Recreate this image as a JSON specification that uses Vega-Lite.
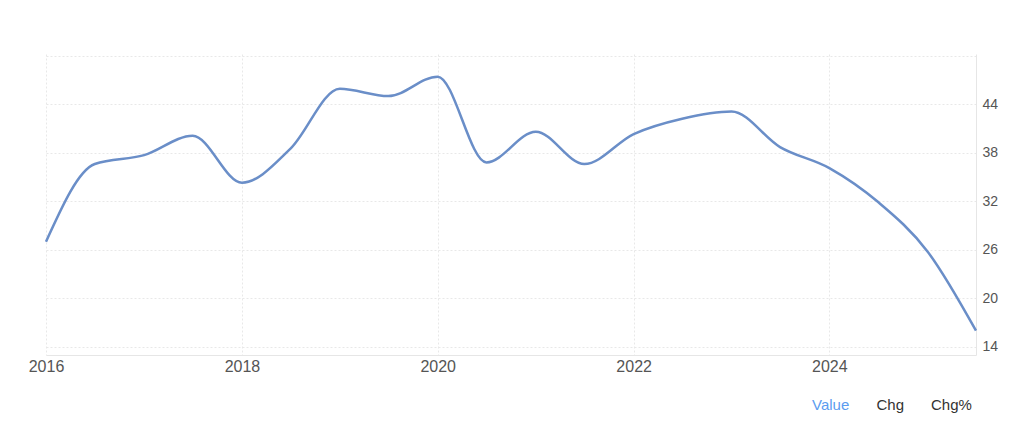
{
  "$schema": "https://vega.github.io/schema/vega-lite/v6.json",
  "autosize": {"type": "none"},
  "width": 930,
  "height": 301,
  "padding": {"left": 46, "top": 54, "right": 48, "bottom": 72},
  "background": "white",
  "config": {
    "font": "Liberation Sans",
    "view": {"stroke": null},
    "axis": {"labelFont": "Liberation Sans", "labelFontSize": 14, "labelColor": "#555555", "ticks": false, "title": null, "gridColor": "#e8e8e8", "gridDash": [2, 2], "gridWidth": 1, "domainColor": "#e6e6e6", "domainWidth": 1}
  },
  "datasets": {
    "series": [
      {"date": "2016-01-01", "value": 27.0},
      {"date": "2016-07-01", "value": 36.6},
      {"date": "2017-01-01", "value": 37.7},
      {"date": "2017-07-01", "value": 40.1},
      {"date": "2018-01-01", "value": 34.3},
      {"date": "2018-07-01", "value": 38.5},
      {"date": "2019-01-01", "value": 45.9},
      {"date": "2019-07-01", "value": 45.0},
      {"date": "2020-01-01", "value": 47.4},
      {"date": "2020-07-01", "value": 36.8},
      {"date": "2021-01-01", "value": 40.6},
      {"date": "2021-07-01", "value": 36.6},
      {"date": "2022-01-01", "value": 40.3},
      {"date": "2022-07-01", "value": 42.2},
      {"date": "2023-01-01", "value": 43.1},
      {"date": "2023-07-01", "value": 38.7},
      {"date": "2024-01-01", "value": 36.1},
      {"date": "2024-07-01", "value": 31.9},
      {"date": "2025-01-01", "value": 25.8},
      {"date": "2025-07-01", "value": 16.0}
    ],
    "tabs": [
      {"tab": "Value"},
      {"tab": "Chg"},
      {"tab": "Chg%"}
    ]
  },
  "layer": [
    {
      "data": {"name": "series"},
      "mark": {"type": "line", "interpolate": "monotone", "color": "#6a8ec8", "strokeWidth": 2.5},
      "encoding": {
        "x": {
          "field": "date", "type": "temporal",
          "scale": {"domain": [{"year": 2016, "month": 1, "date": 1}, {"year": 2025, "month": 7, "date": 1}]},
          "axis": {"values": [{"year": 2016, "month": 1, "date": 1}, {"year": 2018, "month": 1, "date": 1}, {"year": 2020, "month": 1, "date": 1}, {"year": 2022, "month": 1, "date": 1}, {"year": 2024, "month": 1, "date": 1}], "format": "%Y", "labelFontSize": 16, "labelFlush": false, "labelPadding": 3, "grid": true, "domain": true}
        },
        "y": {
          "field": "value", "type": "quantitative",
          "scale": {"domain": [13, 50.2], "nice": false, "zero": false},
          "axis": {"orient": "right", "values": [14, 20, 26, 32, 38, 44, 50], "labelExpr": "datum.value == 50 ? '' : datum.label", "labelPadding": 6, "labelFlush": false, "grid": true, "domain": true}
        }
      }
    },
    {
      "data": {"name": "tabs"},
      "mark": {"type": "point", "opacity": 0},
      "encoding": {
        "color": {
          "field": "tab", "type": "nominal",
          "scale": {"domain": ["Value", "Chg", "Chg%"], "range": ["#ffffff", "#ffffff", "#ffffff"]},
          "legend": {
            "orient": "none", "legendX": 751, "legendY": 343, "direction": "horizontal",
            "title": null, "symbolSize": 0, "symbolOpacity": 0, "symbolStrokeWidth": 0,
            "labelOffset": 0, "columnPadding": 11.5, "labelFontSize": 15, "labelFont": "Liberation Sans",
            "labelColor": {"expr": "datum.value === 'Value' ? '#5b9cf0' : '#333333'"}
          }
        }
      }
    }
  ]
}
